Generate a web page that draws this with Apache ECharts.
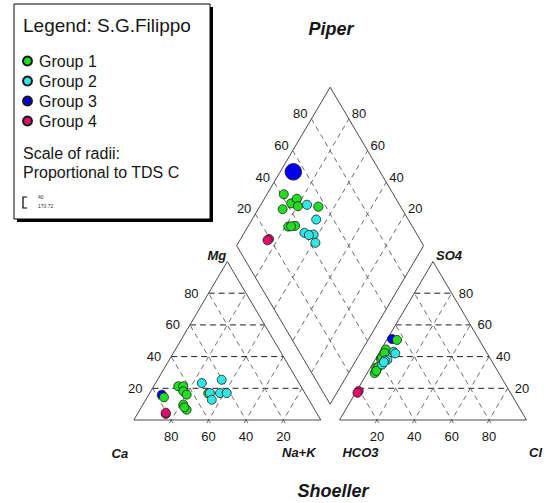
<!DOCTYPE html>
<html>
<head>
<meta charset="utf-8">
<script src="https://cdn.jsdelivr.net/npm/echarts@6/dist/echarts.min.js"></script>
<style>
  html, body { margin: 0; padding: 0; background: #fff; }
  #chart { width: 548px; height: 503px; }
</style>
</head>
<body>
<div id="chart"></div>
<script>
// Piper / Schoeller diagram of the S.G. Filippo water samples (% meq/l)
const groupNames = ['Group 1', 'Group 2', 'Group 3', 'Group 4'];
const groupColors = ['#22dd22', '#33e6e6', '#0000ee', '#e0106a'];
const tickValues = [20, 40, 60, 80];

// Group 1
const g1Ca   = [76.7, 65.6, 62.9, 64.5, 63.7, 51.8, 68.7, 68.5, 69.0];
const g1Mg   = [14.3, 21.3, 21.3, 18.1, 16.0, 16.8,  9.7,  6.5,  8.0];
const g1NaK  = [ 9.0, 13.1, 15.8, 17.4, 20.3, 31.4, 21.6, 25.0, 23.0];
const g1HCO3 = [58.6, 63.9, 57.5, 53.0, 54.8, 44.0, 66.4, 62.5, 64.8];
const g1SO4  = [38.5, 33.0, 39.5, 44.5, 42.2, 50.5, 29.6, 33.5, 31.0];
const g1Cl   = [ 2.9,  3.1,  3.0,  2.5,  3.0,  5.5,  4.0,  4.0,  4.2];
const g1TDS  = [470, 465, 470, 475, 470, 480, 465, 470, 465];

// Group 2
const g2Ca   = [52.0, 40.3, 50.8, 45.4, 41.8, 51.9];
const g2Mg   = [23.3, 25.4, 17.0, 17.0, 17.0, 12.8];
const g2NaK  = [24.7, 34.3, 32.2, 37.6, 41.2, 35.3];
const g2HCO3 = [49.5, 49.2, 59.7, 55.4, 57.0, 58.0];
const g2SO4  = [43.0, 42.0, 35.0, 38.0, 37.5, 36.5];
const g2Cl   = [ 7.5,  8.8,  5.3,  6.6,  5.5,  5.5];
const g2TDS  = [475, 470, 470, 475, 470, 470];

// Group 3
const g3Ca   = [77.0];
const g3Mg   = [16.0];
const g3NaK  = [ 7.0];
const g3HCO3 = [46.4];
const g3SO4  = [51.1];
const g3Cl   = [ 2.5];
const g3TDS  = [860];

// Group 4
const g4Ca   = [81.0, 80.6];
const g4Mg   = [ 3.8,  4.6];
const g4NaK  = [15.2, 14.8];
const g4HCO3 = [80.6, 81.8];
const g4SO4  = [18.3, 17.2];
const g4Cl   = [ 1.1,  1.0];
const g4TDS  = [470, 470];

// ---- ternary geometry (triangle side = 100 units) ----
const S = Math.sqrt(3) / 2;
const GAP = 10;                     // spacing between the two triangles
function cation(ca, mg, nak) {
  const t = ca + mg + nak;
  return [(nak + 0.5 * mg) / t * 100, S * mg / t * 100];
}
function anion(hco3, so4, cl) {
  const t = hco3 + so4 + cl;
  return [100 + GAP + (cl + 0.5 * so4) / t * 100, S * so4 / t * 100];
}
// nak: Na+K %, an: SO4+Cl %
function diamond(nak, an) {
  const x0 = (100 + GAP) / 2, y0 = (100 + GAP) * S;
  return [x0 + 0.5 * nak + 0.5 * an, y0 + S * (an - nak)];
}
function sizeOf(tds) { return tds / 52; }

function buildPoints(ca, mg, nak, hco3, so4, cl, tds) {
  const pts = [];
  for (let i = 0; i < ca.length; i++) pts.push({ value: cation(ca[i], mg[i], nak[i]), symbolSize: 9 });
  for (let i = 0; i < ca.length; i++) pts.push({ value: anion(hco3[i], so4[i], cl[i]), symbolSize: 9 });
  for (let i = 0; i < ca.length; i++) {
    const tc = ca[i] + mg[i] + nak[i], ta = hco3[i] + so4[i] + cl[i];
    pts.push({ value: diamond(nak[i] / tc * 100, (so4[i] + cl[i]) / ta * 100), symbolSize: sizeOf(tds[i]) });
  }
  return pts;
}

const groupData = [
  buildPoints(g1Ca, g1Mg, g1NaK, g1HCO3, g1SO4, g1Cl, g1TDS),
  buildPoints(g2Ca, g2Mg, g2NaK, g2HCO3, g2SO4, g2Cl, g2TDS),
  buildPoints(g3Ca, g3Mg, g3NaK, g3HCO3, g3SO4, g3Cl, g3TDS),
  buildPoints(g4Ca, g4Mg, g4NaK, g4HCO3, g4SO4, g4Cl, g4TDS)
];

const FONT = '"Liberation Sans", Arial, sans-serif';
const TEXT = '#161616';

// frame: outlines, dashed grid and axis labels, drawn in data coordinates
function renderFrame(params, api) {
  const c = p => api.coord(p);
  const kids = [];
  function seg(a, b, stroke, dash, w) {
    const p = c(a), q = c(b);
    kids.push({ type: 'line', shape: { x1: p[0], y1: p[1], x2: q[0], y2: q[1] },
      style: { stroke: stroke, lineWidth: w || 1, lineDash: dash || null }, silent: true });
  }
  // segment whose first end pokes slightly past the base line
  function segBase(a, b, stroke, dash) {
    const dx = a[0] - b[0], dy = a[1] - b[1], L = Math.hypot(dx, dy);
    seg([a[0] + dx / L * 2, a[1] + dy / L * 2], b, stroke, dash);
  }
  function poly(pts) {
    kids.push({ type: 'polygon', shape: { points: pts.map(c) },
      style: { fill: null, stroke: '#4a4a4a', lineWidth: 1 }, silent: true });
  }
  function label(p, dx, dy, text, align, font) {
    const q = c(p);
    kids.push({ type: 'text', x: q[0] + dx, y: q[1] + dy, silent: true,
      style: { text: text, fill: TEXT, font: font || ('13px ' + FONT), align: align, verticalAlign: 'middle' } });
  }
  const BLK = '#1e1e1e', GRY = '#6e6e6e', DGR = '#6a6a6a';
  const dashH = [6, 4], dashD = [5, 4];

  // grid lines
  tickValues.forEach(v => {
    // cation triangle
    seg(cation(100 - v, v, 0), cation(0, v, 100 - v), BLK, dashH, 1);
    segBase(cation(100 - v, 0, v), cation(0, 100 - v, v), GRY, dashD);
    segBase(cation(v, 0, 100 - v), cation(v, 100 - v, 0), GRY, dashD);
    // anion triangle
    seg(anion(100 - v, v, 0), anion(0, v, 100 - v), BLK, dashH, 1);
    segBase(anion(100 - v, 0, v), anion(0, 100 - v, v), GRY, dashD);
    segBase(anion(v, 0, 100 - v), anion(v, 100 - v, 0), GRY, dashD);
    // diamond
    seg(diamond(v, 0), diamond(v, 100), DGR, dashD, 1);
    seg(diamond(0, v), diamond(100, v), DGR, dashD, 1);
  });

  // outlines
  poly([cation(100, 0, 0), cation(0, 0, 100), cation(0, 100, 0)]);
  poly([anion(100, 0, 0), anion(0, 0, 100), anion(0, 100, 0)]);
  poly([diamond(0, 0), diamond(100, 0), diamond(100, 100), diamond(0, 100)]);

  // tick labels
  tickValues.forEach(v => {
    const t = String(v);
    label(cation(v, 0, 100 - v), 0, 16, t, 'center');          // Ca %
    label(cation(100 - v, v, 0), -10, 0, t, 'right');         // Mg %
    label(anion(100 - v, 0, v), 0, 16, t, 'center');          // Cl %
    label(anion(0, v, 100 - v), 7, 0, t, 'left');             // SO4 %
    label(diamond(0, v), -4, -5, t, 'right');                 // SO4+Cl %
    label(diamond(100 - v, 100), 3, -5, t, 'left');           // Ca+Mg %
  });

  // corner names
  const cf = 'italic bold 13px ' + FONT;
  label(cation(0, 100, 0), -1, -6, 'Mg', 'right', cf);
  label(anion(0, 100, 0), 3, -6, 'SO4', 'left', cf);
  label(cation(100, 0, 0), -14, 33, 'Ca', 'center', cf);
  label(cation(0, 0, 100), -22, 32, 'Na+K', 'center', cf);
  label(anion(100, 0, 0), 21, 32, 'HCO3', 'center', cf);
  label(anion(0, 0, 100), 9, 32, 'Cl', 'center', cf);

  return { type: 'group', children: kids };
}

const drawOrder = [2, 0, 1, 3];
const series = [{
  type: 'custom',
  data: [[0, 0]],
  renderItem: renderFrame,
  clip: false,
  silent: true,
  z: 1
}];
drawOrder.forEach(g => {
  series.push({
    type: 'scatter',
    name: groupNames[g],
    data: groupData[g],
    symbol: 'circle',
    clip: false,
    z: 3,
    itemStyle: { color: groupColors[g], borderColor: '#1a1a1a', borderWidth: 0.8, opacity: 1 },
    emphasis: { disabled: true }
  });
});

const chart = echarts.init(document.getElementById('chart'), null, { renderer: 'svg' });
chart.setOption({
  animation: false,
  backgroundColor: '#ffffff',
  grid: { left: 133.8, top: 72.3, width: 392.7, height: 347.7, show: false },
  xAxis: { type: 'value', min: 0, max: 210, show: false },
  yAxis: { type: 'value', min: 0, max: 190, show: false },
  legend: {
    data: groupNames,
    orient: 'vertical',
    left: 22,
    top: 53,
    padding: 0,
    itemWidth: 9,
    itemHeight: 9,
    itemGap: 4,
    icon: 'circle',
    selectedMode: false,
    textStyle: { fontSize: 16, fontFamily: FONT, color: TEXT, lineHeight: 16, padding: [0, 0, 0, 2] },
    z: 10
  },
  graphic: [
    { type: 'rect', shape: { x: 17, y: 7, width: 196, height: 215 }, style: { fill: '#000' }, z: 5 },
    { type: 'rect', shape: { x: 14, y: 4, width: 196, height: 215 }, style: { fill: '#fff', stroke: '#000', lineWidth: 1 }, z: 6 },
    { type: 'text', x: 23, y: 25, z: 7, style: { text: 'Legend: S.G.Filippo', font: '19px ' + FONT, fill: TEXT, verticalAlign: 'middle' } },
    { type: 'text', x: 23, y: 153, z: 7, style: { text: 'Scale of radii:', font: '16px ' + FONT, fill: TEXT, verticalAlign: 'middle' } },
    { type: 'text', x: 23, y: 172, z: 7, style: { text: 'Proportional to TDS C', font: '16px ' + FONT, fill: TEXT, verticalAlign: 'middle' } },
    { type: 'polyline', shape: { points: [[27, 197], [23, 197], [23, 208], [27, 208]] }, style: { stroke: '#000', lineWidth: 1.2, fill: null }, z: 7 },
    { type: 'text', x: 38, y: 197, z: 7, style: { text: '40', font: '5px ' + FONT, fill: '#333', verticalAlign: 'middle' } },
    { type: 'text', x: 38, y: 206, z: 7, style: { text: '170.72', font: '5px ' + FONT, fill: '#333', verticalAlign: 'middle' } },
    { type: 'text', x: 331, y: 29, z: 7, style: { text: 'Piper', font: 'italic bold 18px ' + FONT, fill: TEXT, align: 'center', verticalAlign: 'middle' } },
    { type: 'text', x: 333, y: 491, z: 7, style: { text: 'Shoeller', font: 'italic bold 18px ' + FONT, fill: TEXT, align: 'center', verticalAlign: 'middle' } }
  ],
  series: series
});
</script>
</body>
</html>
